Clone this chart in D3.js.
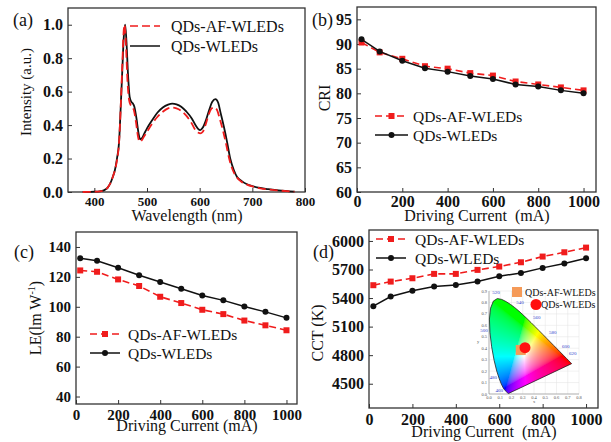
<!DOCTYPE html>
<html>
<head>
<meta charset="utf-8">
<script src="https://cdn.jsdelivr.net/npm/d3@7"></script>
<style>
body { margin: 0; background: #fff; }
svg { display: block; }
</style>
</head>
<body>
<svg id="fig" width="611" height="442"></svg>
<script>
// (a) emission spectra
let wlW = [378,390,400,410,418,425,430,435,439,443,447,450,453,456,458.5,461,464,467,470,473,476,480,484,487,490,495,500,510,520,530,540,548,556,565,575,585,592,597,601,606,612,618,624,630,635,640,646,652,658,665,671,680,690,700,715,730,750,780]
let intW = [0,0.001,0.002,0.004,0.01,0.025,0.05,0.09,0.13,0.2,0.3,0.5,0.72,0.93,1.0,0.9,0.7,0.57,0.54,0.53,0.51,0.44,0.35,0.315,0.32,0.35,0.38,0.43,0.475,0.505,0.522,0.528,0.524,0.51,0.48,0.44,0.4,0.378,0.37,0.385,0.43,0.49,0.54,0.555,0.535,0.47,0.39,0.30,0.2,0.13,0.09,0.065,0.046,0.035,0.024,0.017,0.01,0.002]
let wlAF = [378,390,400,410,418,425,430,435,439,443,447,450,453,455.5,457.5,460,463,466,469,472,475,479,483,486,489,494,500,510,520,530,540,548,556,565,575,585,592,597,601,606,612,618,623,628,633,638,644,650,656,663,670,680,690,700,715,730,750,780]
let intAF = [0,0.001,0.002,0.004,0.01,0.025,0.05,0.09,0.13,0.19,0.3,0.5,0.75,0.95,1.0,0.88,0.66,0.55,0.52,0.51,0.49,0.42,0.33,0.3,0.305,0.33,0.36,0.41,0.45,0.48,0.5,0.505,0.5,0.485,0.455,0.41,0.37,0.355,0.35,0.36,0.41,0.47,0.5,0.505,0.49,0.44,0.37,0.29,0.2,0.13,0.09,0.06,0.044,0.033,0.022,0.015,0.009,0.002]

// (b)-(d) vs driving current
let current = [20,100,200,300,400,500,600,700,800,900,1000]
let criAF = [90.3,88.3,87.0,85.5,85.0,84.1,83.6,82.4,81.8,81.2,80.6]
let criW = [90.95,88.5,86.6,85.1,84.4,83.5,82.9,81.8,81.4,80.6,80.0]
let leAF = [124.3,123.4,118.3,113.9,106.7,102.5,98.0,95.1,90.8,87.6,84.3]
let leW = [132.4,130.8,126.1,121.1,116.6,112.1,107.6,104.3,100.2,96.6,92.6]
let cctAF = [5535,5573,5608,5654,5654,5696,5731,5776,5836,5881,5930]
let cctW = [5315,5416,5476,5521,5538,5573,5629,5664,5717,5762,5818]
let names = ['QDs-AF-WLEDs', 'QDs-WLEDs']

// inset: CIE 1931 chromaticity
let cieAF = [0.282, 0.385]
let cieW = [0.32, 0.405]
let locusNm = [380,390,400,410,420,430,440,450,460,465,470,475,480,485,490,495,500,505,510,515,520,525,530,535,540,545,550,555,560,565,570,575,580,585,590,595,600,610,620,630,640,650,660,680,700]
let locusX = [0.1741,0.1738,0.1733,0.1726,0.1714,0.1689,0.1644,0.1566,0.1440,0.1355,0.1241,0.1096,0.0913,0.0687,0.0454,0.0235,0.0082,0.0039,0.0139,0.0389,0.0743,0.1142,0.1547,0.1929,0.2296,0.2658,0.3016,0.3373,0.3731,0.4087,0.4441,0.4788,0.5125,0.5448,0.5752,0.6029,0.6270,0.6658,0.6915,0.7079,0.7190,0.7260,0.7300,0.7334,0.7347]
let locusY = [0.0050,0.0049,0.0048,0.0048,0.0051,0.0069,0.0109,0.0177,0.0297,0.0399,0.0578,0.0868,0.1327,0.2007,0.2950,0.4127,0.5384,0.6548,0.7502,0.8120,0.8338,0.8262,0.8059,0.7816,0.7543,0.7243,0.6923,0.6589,0.6245,0.5896,0.5547,0.5202,0.4866,0.4544,0.4242,0.3965,0.3725,0.3340,0.3083,0.2920,0.2809,0.2740,0.2700,0.2666,0.2653]
let nmLabels = ['520','540','560','580','600','620','500','480','460']
let nmLabelX = [0.062,0.276,0.424,0.566,0.682,0.744,-0.044,0.038,0.092]
let nmLabelY = [0.874,0.784,0.653,0.522,0.40,0.338,0.54,0.128,0.015]

let red = '#f01c1c'
let ink = '#111'
let serif = '"Liberation Serif"'

let svg = d3.select('#fig').style('font-family', serif)
svg.append('rect').attr('width', 611).attr('height', 442).attr('fill', '#fff')

//axes + frame for one panel
let panel = (o) => {
  let g = svg.append('g')
  let x = d3.scaleLinear().domain(o.xDomain).range([o.left, o.right])
  let y = d3.scaleLinear().domain(o.yDomain).range([o.bottom, o.top])
  let xa = g.append('g')
    .attr('transform', `translate(0,${o.bottom})`)
    .call(d3.axisBottom(x).tickValues(o.xTicks).tickSize(-4).tickPadding(o.xPad).tickFormat(d3.format('d')))
  let ya = g.append('g')
    .attr('transform', `translate(${o.left},0)`)
    .call(d3.axisLeft(y).tickValues(o.yTicks).tickSize(-4).tickPadding(5).tickFormat(o.yFmt || d3.format('d')))
  xa.attr('font-size', o.xFont)
  ya.attr('font-size', o.yFont)
  ;[xa, ya].forEach(a => {
    a.attr('font-family', null)
    a.select('.domain').remove()
    a.selectAll('line').attr('stroke', '#333').attr('stroke-width', 1)
    a.selectAll('text').style('font-family', serif).attr('font-weight', 'bold').attr('fill', ink)
  })
  g.append('rect')
    .attr('x', o.left).attr('y', o.top)
    .attr('width', o.right - o.left).attr('height', o.bottom - o.top)
    .attr('fill', 'none').attr('stroke', '#333').attr('stroke-width', 1.3)
  g.append('text').attr('x', o.tag[0]).attr('y', o.tag[1])
    .attr('font-size', 18).attr('fill', ink).text(o.tagText)
  g.append('text').attr('x', o.xt[0]).attr('y', o.xt[1])
    .attr('text-anchor', 'middle').attr('font-size', 16).attr('fill', ink)
    .style('white-space', 'pre')
    .text(o.xTitle)
  let yt = g.append('text')
    .attr('transform', `translate(${o.yt[0]},${o.yt[1]}) rotate(-90)`)
    .attr('text-anchor', 'middle').attr('font-size', o.ytSize || 16).attr('fill', ink)
  if (Array.isArray(o.yTitle)) {
    yt.text(o.yTitle[0])
    yt.append('tspan').attr('font-size', 10).attr('dy', -6).text(o.yTitle[1])
    yt.append('tspan').attr('dy', 6).text(o.yTitle[2])
  } else {
    yt.text(o.yTitle)
  }
  return { g, x, y }
}

//dashed red + squares, solid black + dots
let drawSeries = (p, xs, af, w, size) => {
  let line = d3.line().x((d, i) => p.x(xs[i])).y(d => p.y(d))
  p.g.append('path').datum(af).attr('d', line)
    .attr('fill', 'none').attr('stroke', red).attr('stroke-width', 1.6).attr('stroke-dasharray', '7,4')
  p.g.selectAll('.sq').data(af).enter().append('rect')
    .attr('x', (d, i) => p.x(xs[i]) - size / 2).attr('y', d => p.y(d) - size / 2)
    .attr('width', size).attr('height', size).attr('fill', red)
  p.g.append('path').datum(w).attr('d', line)
    .attr('fill', 'none').attr('stroke', ink).attr('stroke-width', 1.5)
  p.g.selectAll('.dot').data(w).enter().append('circle')
    .attr('cx', (d, i) => p.x(xs[i])).attr('cy', d => p.y(d))
    .attr('r', 3).attr('fill', ink)
}

let legend = (p, x0, x1, y0, y1, tx, fs, marks) => {
  let g = p.g.append('g')
  g.append('line').attr('x1', x0).attr('x2', x1).attr('y1', y0).attr('y2', y0)
    .attr('stroke', red).attr('stroke-width', 1.6).attr('stroke-dasharray', marks ? '7,4' : '8,4')
  g.append('line').attr('x1', x0).attr('x2', x1).attr('y1', y1).attr('y2', y1)
    .attr('stroke', ink).attr('stroke-width', 1.5)
  if (marks) {
    g.append('rect').attr('x', (x0 + x1) / 2 - 3).attr('y', y0 - 3).attr('width', 6).attr('height', 6).attr('fill', red)
    g.append('circle').attr('cx', (x0 + x1) / 2).attr('cy', y1).attr('r', 3).attr('fill', ink)
  }
  ;[y0, y1].forEach((yy, i) => {
    g.append('text').attr('x', tx).attr('y', yy + 5.5)
      .attr('font-size', fs).attr('fill', ink).text(names[i])
  })
}

// (a)
let pa = panel({
  left: 68, right: 305, top: 8, bottom: 192,
  xDomain: [350, 800], yDomain: [0, 1.1],
  xTicks: [400, 500, 600, 700, 800], yTicks: [0, 0.2, 0.4, 0.6, 0.8, 1.0], yFmt: d3.format('.1f'),
  xFont: 13, yFont: 16, xPad: 5,
  tag: [13, 26], tagText: '(a)',
  xt: [187, 221], xTitle: 'Wavelength (nm)',
  yt: [31, 92], yTitle: 'Intensity (a.u.)', ytSize: 15
})
let specLine = (wl) => d3.line().curve(d3.curveMonotoneX).x((d, i) => pa.x(wl[i])).y(d => pa.y(d))
pa.g.append('path').datum(intW).attr('d', specLine(wlW))
  .attr('fill', 'none').attr('stroke', ink).attr('stroke-width', 1.8)
pa.g.append('path').datum(intAF).attr('d', specLine(wlAF))
  .attr('fill', 'none').attr('stroke', red).attr('stroke-width', 1.8).attr('stroke-dasharray', '8,4')
legend(pa, 130, 160, 26, 46, 171, 16, false)

// (b)
let pb = panel({
  left: 357, right: 596, top: 7, bottom: 192,
  xDomain: [0, 1055], yDomain: [60, 97.5],
  xTicks: [0, 200, 400, 600, 800, 1000], yTicks: d3.range(60, 96, 5),
  xFont: 16, yFont: 16, xPad: 4,
  tag: [312, 26], tagText: '(b)',
  xt: [477, 221], xTitle: 'Driving Current  (mA)',
  yt: [330, 98], yTitle: 'CRI'
})
drawSeries(pb, current, criAF, criW, 6)
legend(pb, 375, 408, 116, 135, 413, 15.5, true)

// (c)
let pc = panel({
  left: 76, right: 297, top: 232, bottom: 404,
  xDomain: [0, 1050], yDomain: [35, 150],
  xTicks: [0, 200, 400, 600, 800, 1000], yTicks: d3.range(40, 141, 20),
  xFont: 15, yFont: 15, xPad: 5,
  tag: [14, 258], tagText: '(c)',
  xt: [187, 431], xTitle: 'Driving Current (mA)',
  yt: [41, 318], yTitle: ['LE(lm W', '-1', ')']
})
drawSeries(pc, current, leAF, leW, 6)
legend(pc, 90, 120, 334, 353, 128, 15.5, true)

// (d)
let pd = panel({
  left: 369, right: 598, top: 230, bottom: 408,
  xDomain: [0, 1055], yDomain: [4245, 6115],
  xTicks: [0, 200, 400, 600, 800, 1000], yTicks: d3.range(4500, 6001, 300),
  xFont: 16, yFont: 16, xPad: 6,
  tag: [313, 258], tagText: '(d)',
  xt: [484, 437], xTitle: 'Driving Current  (mA)',
  yt: [323, 333], yTitle: 'CCT (K)'
})
drawSeries(pd, current, cctAF, cctW, 6)
legend(pd, 376, 406, 239, 258, 415, 15.5, true)

// inset CIE diagram
let cx = d3.scaleLinear().domain([0, 0.8]).range([489, 579])
let cy = d3.scaleLinear().domain([0, 0.9]).range([394, 291])
let inset = svg.append('g')
inset.selectAll('.gx').data(d3.range(0, 0.81, 0.1)).enter().append('line')
  .attr('x1', d => cx(d)).attr('x2', d => cx(d)).attr('y1', cy(0)).attr('y2', cy(0.9))
  .attr('stroke', '#e2e2e2').attr('stroke-width', 0.5)
inset.selectAll('.gy').data(d3.range(0, 0.91, 0.1)).enter().append('line')
  .attr('x1', cx(0)).attr('x2', cx(0.8)).attr('y1', d => cy(d)).attr('y2', d => cy(d))
  .attr('stroke', '#e2e2e2').attr('stroke-width', 0.5)
inset.append('line').attr('x1', cx(0)).attr('x2', cx(0.8)).attr('y1', cy(0)).attr('y2', cy(0))
  .attr('stroke', '#888').attr('stroke-width', 0.6)
inset.append('line').attr('x1', cx(0)).attr('x2', cx(0)).attr('y1', cy(0)).attr('y2', cy(0.9))
  .attr('stroke', '#888').attr('stroke-width', 0.6)
inset.selectAll('.tx').data(d3.range(0, 0.81, 0.1)).enter().append('text')
  .attr('x', d => cx(d)).attr('y', cy(0) + 5).attr('text-anchor', 'middle')
  .attr('font-size', 4.5).attr('fill', '#555').text(d => d.toFixed(1))
inset.selectAll('.ty').data(d3.range(0, 0.91, 0.1)).enter().append('text')
  .attr('x', cx(0) - 2).attr('y', d => cy(d) + 1.5).attr('text-anchor', 'end')
  .attr('font-size', 4.5).attr('fill', '#555').text(d => d.toFixed(1))
inset.append('text').attr('x', cx(0.4)).attr('y', cy(0) + 9).attr('text-anchor', 'middle')
  .attr('font-size', 4.5).attr('fill', '#555').text('x')
inset.append('text').attr('x', cx(0) - 11).attr('y', cy(0.45)).attr('text-anchor', 'middle')
  .attr('font-size', 4.5).attr('fill', '#555').text('y')

//colour field from xy -> sRGB
let cw = 92, ch = 105
let canvas = document.createElement('canvas')
canvas.width = cw
canvas.height = ch
let ctx = canvas.getContext('2d')
let img = ctx.createImageData(cw, ch)
let gam = v => v <= 0.0031308 ? 12.92 * v : 1.055 * Math.pow(v, 1 / 2.4) - 0.055
for (let j = 0; j < ch; j++) {
  for (let i = 0; i < cw; i++) {
    let xx = cx.invert(cx(0) + i + 0.5)
    let yy = Math.max(cy.invert(cy(0.9) + j + 0.5), 0.002)
    let X = xx / yy, Y = 1, Z = (1 - xx - yy) / yy
    let r = 3.2406 * X - 1.5372 * Y - 0.4986 * Z
    let g = -0.9689 * X + 1.8758 * Y + 0.0415 * Z
    let b = 0.0557 * X - 0.2040 * Y + 1.0570 * Z
    r = Math.max(r, 0); g = Math.max(g, 0); b = Math.max(b, 0)
    let m = Math.max(r, g, b) || 1
    let k = (j * cw + i) * 4
    img.data[k] = 255 * gam(r / m)
    img.data[k + 1] = 255 * gam(g / m)
    img.data[k + 2] = 255 * gam(b / m)
    img.data[k + 3] = 255
  }
}
ctx.putImageData(img, 0, 0)

let locus = locusNm.map((d, i) => [cx(locusX[i]), cy(locusY[i])])
let locusPath = d3.line().curve(d3.curveLinearClosed)(locus)
svg.append('defs').append('clipPath').attr('id', 'locus')
  .append('path').attr('d', locusPath)
inset.append('image')
  .attr('href', canvas.toDataURL())
  .attr('x', cx(0)).attr('y', cy(0.9)).attr('width', cw).attr('height', ch)
  .attr('preserveAspectRatio', 'none')
  .attr('clip-path', 'url(#locus)')
inset.append('path').attr('d', locusPath)
  .attr('fill', 'none').attr('stroke', '#222').attr('stroke-width', 0.8)
inset.selectAll('.nm').data(nmLabels).enter().append('text')
  .attr('x', (d, i) => cx(nmLabelX[i])).attr('y', (d, i) => cy(nmLabelY[i]))
  .attr('text-anchor', 'middle').attr('font-size', 5).attr('fill', '#3344cc').text(d => d)

inset.append('rect')
  .attr('x', cx(cieAF[0]) - 5).attr('y', cy(cieAF[1]) - 5).attr('width', 10).attr('height', 10)
  .attr('fill', '#f59a58')
inset.append('circle')
  .attr('cx', cx(cieW[0])).attr('cy', cy(cieW[1])).attr('r', 5.5).attr('fill', '#ff1010')

inset.append('rect').attr('x', 512).attr('y', 287).attr('width', 10).attr('height', 10).attr('fill', '#f59a58')
inset.append('text').attr('x', 525).attr('y', 296).attr('font-size', 10).attr('fill', ink).text(names[0])
inset.append('circle').attr('cx', 536).attr('cy', 304.5).attr('r', 5.5).attr('fill', '#ff1010')
inset.append('text').attr('x', 541).attr('y', 308).attr('font-size', 10).attr('fill', ink).text(names[1])
</script>
</body>
</html>
